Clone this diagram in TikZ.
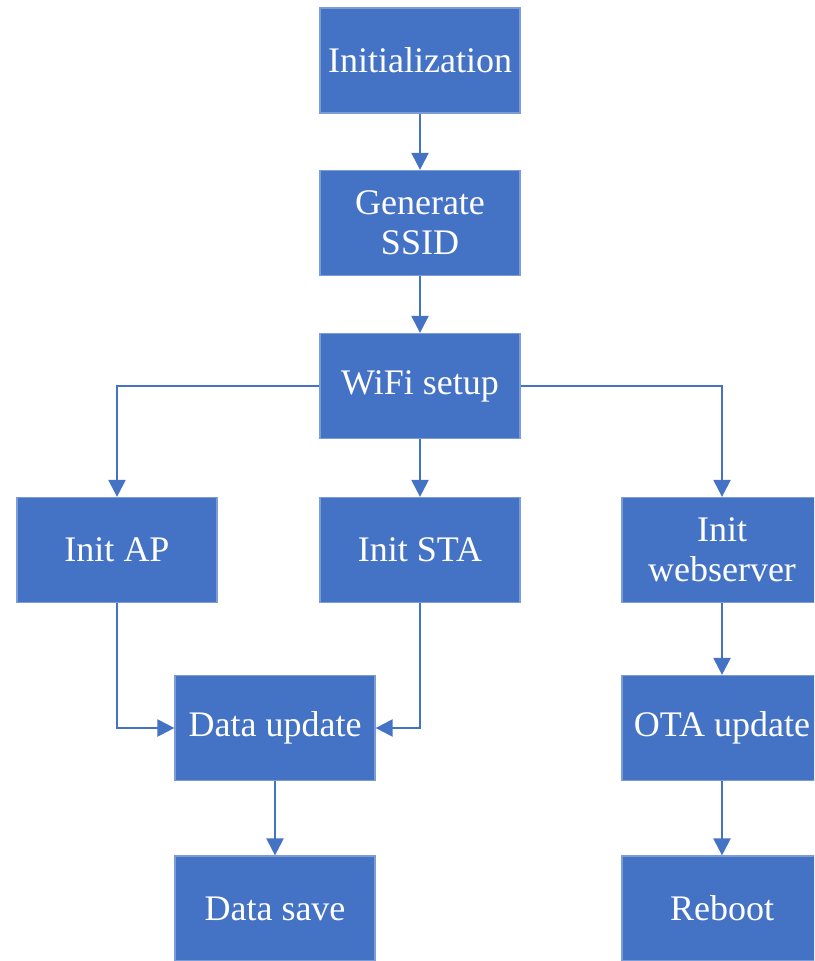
\documentclass[tikz,border=0pt]{standalone}
\usepackage{fontspec}
\setmainfont{Liberation Serif}
\usetikzlibrary{arrows.meta}
\definecolor{boxblue}{HTML}{4472C4}
\tikzset{
  stepbox/.style={fill=boxblue, draw=boxblue!70!white, line width=0.6pt, text=white,
    minimum width=100pt, minimum height=52.5pt, inner sep=0pt, align=center,
    font=\fontsize{18}{20}\selectfont},
  flow/.style={->, draw=boxblue, line width=1.1pt},
}

\begin{document}
\begin{tikzpicture}[x=0.5pt, y=-0.5pt, >={Triangle[width=8.5pt,length=8.5pt]}]
\clip (0,0) rectangle (814,961);

% main chain
\node[stepbox] (init) at (420,60.5) {Initialization};
\node[stepbox] (gen)  at (420,223) {Generate\\SSID};
\node[stepbox] (wifi) at (420,386) {WiFi setup};

% three branches
\node[stepbox] (ap)  at (117,550) {Init AP};
\node[stepbox] (sta) at (420,550) {Init STA};
\node[stepbox] (web) at (722,550) {Init\\webserver};

% lower rows
\node[stepbox] (dupd)   at (275,728) {Data update};
\node[stepbox] (ota)    at (722,728) {OTA update};
\node[stepbox] (save)   at (275,908.5) {Data save};
\node[stepbox] (reboot) at (722,908.5) {Reboot};

% connectors
\draw[flow] (init) -- (gen);
\draw[flow] (gen) -- (wifi);
\draw[flow] (wifi.west) -| (ap);
\draw[flow] (wifi) -- (sta);
\draw[flow] (wifi.east) -| (web);
\draw[flow] (ap) |- (dupd);
\draw[flow] (sta) |- (dupd);
\draw[flow] (dupd) -- (save);
\draw[flow] (web) -- (ota);
\draw[flow] (ota) -- (reboot);
\end{tikzpicture}
\end{document}
